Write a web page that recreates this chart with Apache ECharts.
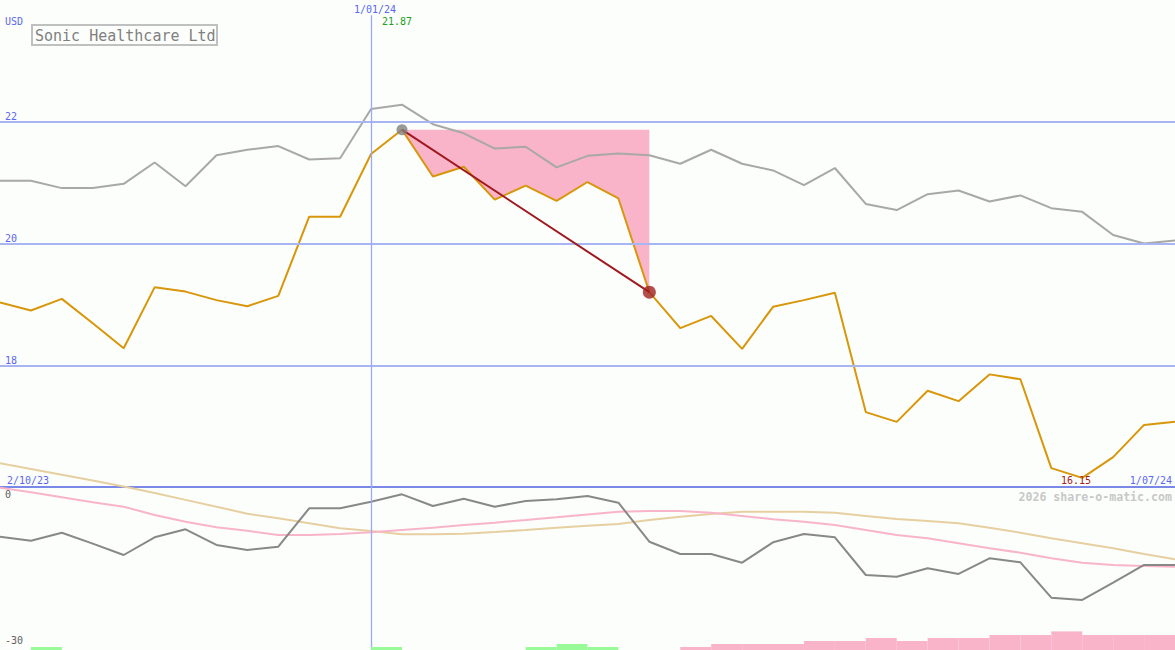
<!DOCTYPE html>
<html>
<head>
<meta charset="utf-8">
<title>Sonic Healthcare Ltd</title>
<script src="https://cdn.jsdelivr.net/npm/echarts@6.0.0/dist/echarts.min.js"></script>
<style>
  html, body { margin: 0; padding: 0; background: #fcfefb; }
  #chart { width: 1175px; height: 650px; }
</style>
</head>
<body>
<div id="chart"></div>
<script>
// weekly closes, 9/10/23 .. 1/07/24
const weeks = [
  '9/10/23', '16/10/23', '23/10/23', '30/10/23', '6/11/23', '13/11/23', '20/11/23', '27/11/23',
  '4/12/23', '11/12/23', '18/12/23', '25/12/23', '1/01/24', '8/01/24', '15/01/24', '22/01/24',
  '29/01/24', '5/02/24', '12/02/24', '19/02/24', '26/02/24', '4/03/24', '11/03/24', '18/03/24',
  '25/03/24', '1/04/24', '8/04/24', '15/04/24', '22/04/24', '29/04/24', '6/05/24', '13/05/24',
  '20/05/24', '27/05/24', '3/06/24', '10/06/24', '17/06/24', '24/06/24', '1/07/24'
];
const closePrice = [
  19.03, 18.90, 19.09, 18.69, 18.28, 19.28, 19.21, 19.07, 18.97, 19.14,
  20.44, 20.44, 21.47, 21.87, 21.10, 21.26, 20.72, 20.95, 20.70, 21.01,
  20.74, 19.20, 18.61, 18.81, 18.27, 18.96, 19.07, 19.19, 17.23, 17.07,
  17.58, 17.41, 17.85, 17.77, 16.31, 16.15, 16.49, 17.02, 17.07
];
const marketIndex = [
  21.03, 21.03, 20.91, 20.91, 20.98, 21.33, 20.94, 21.45, 21.54, 21.60,
  21.38, 21.40, 22.21, 22.28, 21.96, 21.81, 21.56, 21.59, 21.25, 21.44,
  21.48, 21.45, 21.31, 21.54, 21.31, 21.20, 20.96, 21.24, 20.65, 20.55,
  20.81, 20.87, 20.69, 20.79, 20.58, 20.52, 20.14, 20.00, 20.05
];
// lower panel (%)
const relative = [
  -8.57, -9.39, -7.75, -10.0, -12.33, -8.69, -7.05, -10.27, -11.30, -10.62,
  -2.73, -2.73, -1.38, 0.14, -2.26, -0.76, -2.40, -1.23, -0.88, -0.21,
  -1.58, -9.60, -12.12, -12.12, -13.91, -9.72, -8.01, -8.69, -16.44, -16.79,
  -15.06, -16.23, -13.01, -13.83, -21.10, -21.57, -18.02, -14.38, -14.38
];
const relativeAvgShort = [
  1.50, 0.55, -0.47, -1.50, -2.40, -4.11, -5.49, -6.64, -7.34, -8.22,
  -8.22, -8.01, -7.66, -7.19, -6.72, -6.16, -5.69, -5.14, -4.58, -4.00,
  -3.43, -3.29, -3.29, -3.64, -4.31, -4.99, -5.49, -6.16, -7.19, -8.22,
  -8.90, -9.92, -10.95, -11.86, -13.01, -13.91, -14.38, -14.59, -14.73
];
const relativeAvgLong = [
  6.51, 5.34, 4.17, 2.98, 1.75, 0.43, -1.00, -2.40, -3.84, -4.79,
  -5.82, -6.84, -7.40, -8.08, -8.08, -7.95, -7.60, -7.19, -6.72, -6.30,
  -5.96, -5.14, -4.46, -3.90, -3.43, -3.43, -3.43, -3.64, -4.31, -4.93,
  -5.34, -5.81, -6.72, -7.75, -8.90, -9.92, -10.95, -12.12, -13.21
];
// signal strip, one value per week interval
const buySignal = [
  0, 1, 0, 0, 0, 0, 0, 0, 0, 0, 0, 0, 1, 0, 0, 0, 0, 1, 2,
  1, 0, 0, 0, 0, 0, 0, 0, 0, 0, 0, 0, 0, 0, 0, 0, 0, 0, 0
];
const sellSignal = [
  0, 0, 0, 0, 0, 0, 0, 0, 0, 0, 0, 0, 0, 0, 0, 0, 0, 0, 0,
  0, 0, 0, 1, 2, 2, 2, 3, 3, 4, 3, 4, 4, 5, 5, 6.2, 5, 5, 5
];
const priceTicks = [18, 20, 22];
const relativeTicks = [0, -30];
const markerWeek = '1/01/24';
const drawStart = 13;
const drawEnd = 21;

const MONO = '"DejaVu Sans Mono", monospace';
const BLUE = '#5a68f0';
const GRID_BLUE = '#a9b5f3';
const VLINE = '#98aaf8';

const peak = closePrice[drawStart];
const low = Math.min(...closePrice);
const ddBase = closePrice.map((v, i) => (i >= drawStart && i <= drawEnd ? v : '-'));
const ddFill = closePrice.map((v, i) => (i >= drawStart && i <= drawEnd ? +(peak - v).toFixed(2) : '-'));
const ddLine = closePrice.map((v, i) => (i === drawStart || i === drawEnd ? v : '-'));

function label(text, x, y, color, align, extra) {
  return Object.assign({
    type: 'text', x, y, z: 50,
    style: { text, fill: color, font: '10px ' + MONO, textAlign: align, textVerticalAlign: 'middle' }
  }, extra || {});
}

const chart = echarts.init(document.getElementById('chart'), null, { renderer: 'svg' });

chart.setOption({
  animation: false,
  backgroundColor: '#fcfefb',
  title: {
    text: 'Sonic Healthcare Ltd',
    left: 32,
    top: 25,
    padding: [3, 2, 2, 3],
    borderColor: '#c0c0c0',
    borderWidth: 2,
    textStyle: { fontFamily: MONO, fontSize: 15, fontWeight: 'normal', color: '#808080' }
  },
  grid: [
    { left: 0, right: 0, top: 0, height: 487 },
    { left: 0, right: 0, top: 440, height: 210 },
    { left: 0, right: 0, top: 600, height: 50 }
  ],
  xAxis: [
    {
      gridIndex: 0, type: 'category', data: weeks, boundaryGap: false,
      axisLine: { show: true, onZero: false, lineStyle: { color: '#7a88e8', width: 2 } },
      axisTick: { show: false }, axisLabel: { show: false }, splitLine: { show: false }
    },
    { gridIndex: 1, type: 'category', data: weeks, boundaryGap: false, show: false },
    { gridIndex: 2, type: 'category', data: weeks.slice(0, 38), boundaryGap: true, show: false }
  ],
  yAxis: [
    {
      gridIndex: 0, type: 'value', min: 16, max: 24,
      axisLine: { show: false }, axisTick: { show: false }, splitLine: { show: false },
      axisLabel: {
        inside: true, margin: 5, customValues: priceTicks, color: BLUE,
        fontFamily: MONO, fontSize: 10, verticalAlign: 'bottom'
      }
    },
    {
      gridIndex: 1, type: 'value', min: -31.85, max: 11.3,
      axisLine: { show: false }, axisTick: { show: false }, splitLine: { show: false },
      axisLabel: {
        inside: true, margin: 5, customValues: relativeTicks, color: '#606060',
        fontFamily: MONO, fontSize: 10, verticalAlign: 'middle'
      }
    },
    { gridIndex: 2, type: 'value', min: 0, max: 16.67, show: false }
  ],
  graphic: [
    label('USD', 5, 21, BLUE, 'left'),
    label(markerWeek, 375, 9, BLUE, 'center'),
    label(peak.toFixed(2), 382, 21, '#22a022', 'left'),
    label('2/10/23', 7, 480, BLUE, 'left'),
    label(weeks[weeks.length - 1], 1172, 480, BLUE, 'right'),
    label(low.toFixed(2), 1076, 480, '#a02020', 'center'),
    {
      type: 'text', x: 1172, y: 497, z: 50,
      style: {
        text: '2026 share-o-matic.com', fill: '#c8c8c8',
        font: 'bold 11.6px ' + MONO, textAlign: 'right', textVerticalAlign: 'middle'
      }
    }
  ],
  series: [
    {
      name: 'dd base', type: 'line', xAxisIndex: 0, yAxisIndex: 0, z: 1,
      data: ddBase, stack: 'dd', symbol: 'none', lineStyle: { width: 0 },
      markLine: {
        silent: true, symbol: ['none', 'none'], label: { show: false },
        lineStyle: { color: GRID_BLUE, width: 2, type: 'solid' },
        data: priceTicks.map((v) => ({ yAxis: v })).concat([[
          { coord: [markerWeek, 23.75], lineStyle: { color: VLINE, width: 1.3, type: 'solid' } },
          { coord: [markerWeek, 16] }
        ]])
      }
    },
    {
      name: 'drawdown', type: 'line', xAxisIndex: 0, yAxisIndex: 0, z: 2,
      data: ddFill, stack: 'dd', symbol: 'none', lineStyle: { width: 0 },
      areaStyle: { color: '#f9b4c9', opacity: 1 }
    },
    {
      name: 'index', type: 'line', xAxisIndex: 0, yAxisIndex: 0, z: 3,
      data: marketIndex, symbol: 'none', lineStyle: { color: '#a8a8a8', width: 2 }
    },
    {
      name: 'close', type: 'line', xAxisIndex: 0, yAxisIndex: 0, z: 4,
      data: closePrice, symbol: 'none', lineStyle: { color: '#d8960a', width: 2 }
    },
    {
      name: 'drop', type: 'line', xAxisIndex: 0, yAxisIndex: 0, z: 5,
      data: ddLine, connectNulls: true, symbol: 'none',
      lineStyle: { color: '#a01820', width: 2 }
    },
    {
      name: 'peak', type: 'scatter', xAxisIndex: 0, yAxisIndex: 0, z: 6,
      data: [[drawStart, peak]], symbolSize: 11, itemStyle: { color: '#808080' }
    },
    {
      name: 'trough', type: 'scatter', xAxisIndex: 0, yAxisIndex: 0, z: 6,
      data: [[drawEnd, closePrice[drawEnd]]], symbolSize: 13, itemStyle: { color: '#a02020' }
    },
    {
      name: 'long avg', type: 'line', xAxisIndex: 1, yAxisIndex: 1, z: 3,
      data: relativeAvgLong, symbol: 'none', lineStyle: { color: '#e6cfa0', width: 2 },
      markLine: {
        silent: true, symbol: ['none', 'none'], label: { show: false },
        lineStyle: { color: VLINE, width: 1.3, type: 'solid' },
        data: [{ xAxis: markerWeek }]
      }
    },
    {
      name: 'short avg', type: 'line', xAxisIndex: 1, yAxisIndex: 1, z: 3,
      data: relativeAvgShort, symbol: 'none', lineStyle: { color: '#f8b4c8', width: 2 }
    },
    {
      name: 'relative', type: 'line', xAxisIndex: 1, yAxisIndex: 1, z: 4,
      data: relative, symbol: 'none', lineStyle: { color: '#888888', width: 2 }
    },
    {
      name: 'buy', type: 'bar', xAxisIndex: 2, yAxisIndex: 2, z: 5,
      data: buySignal, barWidth: '100%', barGap: '-100%', itemStyle: { color: '#98fb98' }
    },
    {
      name: 'sell', type: 'bar', xAxisIndex: 2, yAxisIndex: 2, z: 5,
      data: sellSignal, barWidth: '100%', barGap: '-100%', itemStyle: { color: '#f9b4c9' }
    }
  ]
});
</script>
</body>
</html>
